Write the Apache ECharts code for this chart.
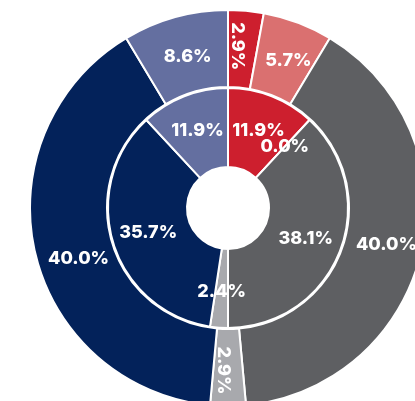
<!DOCTYPE html>
<html>
<head>
<meta charset="utf-8">
<script src="https://cdn.jsdelivr.net/npm/echarts@6/dist/echarts.min.js"></script>
<style>
	html, body { margin: 0; padding: 0; background: #fff; }
	#chart { width: 415px; height: 401px; }
</style>
</head>
<body>
<div id="chart"></div>
<script>
	// slices go clockwise from 12 o'clock
	const categories = ["Red", "Light red", "Dark grey", "Light grey", "Navy", "Slate"];
	const innerValues = [11.9, 0.0, 38.1, 2.4, 35.7, 11.9];
	const outerValues = [2.9, 5.7, 40.0, 2.9, 40.0, 8.6];
	const colors = ["#CD1F2E", "#DA7070", "#5E5F62", "#A8A9AD", "#03225A", "#646FA0"];

	// the thin outer slices get their label turned to read top-down
	const verticalOuter = [0, 3];

	const chart = echarts.init(document.getElementById("chart"));

	const labelStyle = {
		show: true,
		position: "inside",
		color: "#fff",
		fontFamily: "Inter",
		fontWeight: 800,
		fontSize: 18,
		formatter: p => p.value.toFixed(1) + "%"
	};

	const outerLabel = i => {
		if (verticalOuter.includes(i)) return { rotate: -90, offset: [0, 5] };
		// big navy label sits a bit lower in the original
		if (i === 4) return { offset: [9, 14] };
		return { offset: [3, 5] };
	};

	chart.setOption({
		animation: false,
		series: [
			{
				type: "pie",
				center: [228, 208],
				radius: [41, 120],
				startAngle: 90,
				clockwise: true,
				silent: true,
				itemStyle: { borderColor: "#fff", borderWidth: 2 },
				label: labelStyle,
				labelLine: { show: false },
				labelLayout: { hideOverlap: false },
				data: categories.map((name, i) => ({
					name,
					value: innerValues[i],
					itemStyle: { color: colors[i] }
				}))
			},
			{
				type: "pie",
				center: [228, 208],
				radius: [121, 198],
				startAngle: 90,
				clockwise: true,
				silent: true,
				itemStyle: { borderColor: "#fff", borderWidth: 2 },
				label: labelStyle,
				labelLine: { show: false },
				labelLayout: { hideOverlap: false },
				data: categories.map((name, i) => ({
					name,
					value: outerValues[i],
					itemStyle: { color: colors[i] },
					label: i === 2 ? {} : outerLabel(i)
				}))
			}
		]
	});
</script>
</body>
</html>
